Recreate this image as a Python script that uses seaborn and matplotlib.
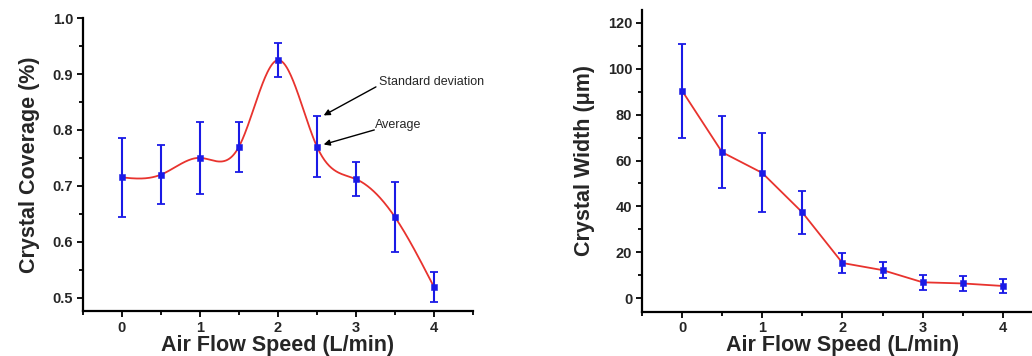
import numpy as np
import pandas as pd
import matplotlib
matplotlib.use("Agg")
import matplotlib.pyplot as plt
import seaborn as sns
from matplotlib.ticker import MultipleLocator

# data
speed = [0, 0.5, 1, 1.5, 2, 2.5, 3, 3.5, 4]
coverage = [0.715, 0.720, 0.750, 0.770, 0.925, 0.770, 0.712, 0.644, 0.519]
coverage_sd = [0.071, 0.053, 0.065, 0.045, 0.030, 0.055, 0.031, 0.062, 0.026]
width = [90.4, 63.6, 54.6, 37.4, 15.4, 12.3, 7.0, 6.5, 5.4]
width_sd = [20.5, 15.6, 17.2, 9.3, 4.4, 3.6, 3.3, 3.4, 3.2]

BLUE = "#1a1ae6"
RED = "#e8332e"


def natural_spline(x, y, n=400):
    """Smooth curve through the points (natural cubic spline)."""
    x = np.asarray(x, float)
    y = np.asarray(y, float)
    k = len(x)
    h = np.diff(x)
    A = np.zeros((k, k))
    b = np.zeros(k)
    A[0, 0] = A[-1, -1] = 1
    for i in range(1, k - 1):
        A[i, i - 1] = h[i - 1]
        A[i, i] = 2 * (h[i - 1] + h[i])
        A[i, i + 1] = h[i]
        b[i] = 6 * ((y[i + 1] - y[i]) / h[i] - (y[i] - y[i - 1]) / h[i - 1])
    M = np.linalg.solve(A, b)
    xs = np.linspace(x[0], x[-1], n)
    idx = np.clip(np.searchsorted(x, xs) - 1, 0, k - 2)
    x0, x1 = x[idx], x[idx + 1]
    hh = x1 - x0
    t0, t1 = x1 - xs, xs - x0
    ys = (M[idx] * t0 ** 3 + M[idx + 1] * t1 ** 3) / (6 * hh) \
        + (y[idx] / hh - M[idx] * hh / 6) * t0 \
        + (y[idx + 1] / hh - M[idx + 1] * hh / 6) * t1
    return xs, ys


def style_axes(ax, ymajor, yminor):
    sns.despine(ax=ax)
    for s in ["left", "bottom"]:
        ax.spines[s].set_linewidth(1.6)
        ax.spines[s].set_color("black")
    ax.xaxis.set_major_locator(MultipleLocator(1))
    ax.xaxis.set_minor_locator(MultipleLocator(0.5))
    ax.yaxis.set_major_locator(MultipleLocator(ymajor))
    ax.yaxis.set_minor_locator(MultipleLocator(yminor))
    ax.tick_params(which="both", direction="out", width=1.3, color="black")
    ax.tick_params(which="major", length=4, labelsize=10.5, pad=3)
    ax.tick_params(which="minor", length=3)
    for lab in ax.get_xticklabels() + ax.get_yticklabels():
        lab.set_fontweight("bold")
    ax.grid(False)


def main():
    sns.set_style("ticks")
    plt.rcParams["font.family"] = ["Liberation Sans", "DejaVu Sans"]

    fig = plt.figure(figsize=(10.32, 3.56), dpi=100)
    ax1 = fig.add_axes([0.0804, 0.1264, 0.3779, 0.8226])
    ax2 = fig.add_axes([0.622, 0.1244, 0.3887, 0.8475])

    # left panel: coverage, smooth curve
    xs, ys = natural_spline(speed, coverage)
    curve = pd.DataFrame({"speed": xs, "coverage": ys})
    sns.lineplot(data=curve, x="speed", y="coverage", ax=ax1, color=RED,
                 linewidth=1.3, estimator=None, sort=False)
    ax1.errorbar(speed, coverage, yerr=coverage_sd, fmt="none", ecolor=BLUE,
                 elinewidth=1.5, capsize=3, capthick=1.3, zorder=3)
    sns.scatterplot(x=speed, y=coverage, ax=ax1, marker="s", s=22,
                    color=BLUE, edgecolor=BLUE, zorder=4)
    ax1.set_xlim(-0.5, 4.5)
    ax1.set_ylim(0.476, 1.0)
    ax1.set_xlabel("Air Flow Speed (L/min)", fontsize=15.5, fontweight="bold",
                   labelpad=0)
    ax1.set_ylabel("Crystal Coverage (%)", fontsize=15.5, fontweight="bold",
                   labelpad=9)
    style_axes(ax1, 0.1, 0.05)

    arrow = dict(arrowstyle="-|>", color="black", lw=1.0,
                 mutation_scale=9, shrinkA=0, shrinkB=0)
    ax1.annotate("", xy=(2.586, 0.826), xytext=(3.256, 0.877), arrowprops=arrow)
    ax1.text(3.29, 0.885, "Standard deviation", fontsize=9, va="center",
             ha="left")
    ax1.annotate("", xy=(2.586, 0.774), xytext=(3.235, 0.800), arrowprops=arrow)
    ax1.text(3.24, 0.808, "Average", fontsize=9, va="center", ha="left")

    # right panel: width, straight segments
    sns.lineplot(x=speed, y=width, ax=ax2, color=RED, linewidth=1.3,
                 estimator=None)
    ax2.errorbar(speed, width, yerr=width_sd, fmt="none", ecolor=BLUE,
                 elinewidth=1.5, capsize=3, capthick=1.3, zorder=3)
    sns.scatterplot(x=speed, y=width, ax=ax2, marker="s", s=22,
                    color=BLUE, edgecolor=BLUE, zorder=4)
    ax2.set_xlim(-0.5, 4.5)
    ax2.set_ylim(-5.8, 125.5)
    ax2.set_xlabel("Air Flow Speed (L/min)", fontsize=15.5, fontweight="bold",
                   labelpad=0)
    ax2.set_ylabel("Crystal Width (μm)", fontsize=15.5, fontweight="bold",
                   labelpad=9)
    style_axes(ax2, 20, 10)

    fig.savefig("out.png", dpi=100)


if __name__ == "__main__":
    main()
